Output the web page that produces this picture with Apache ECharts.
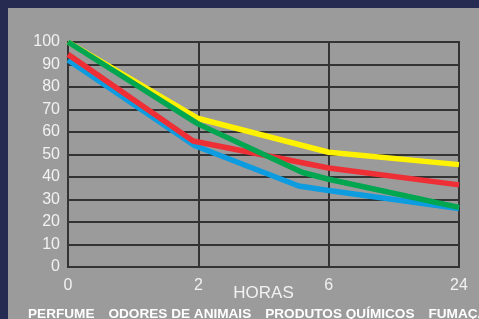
<!DOCTYPE html>
<html>
<head>
<meta charset="utf-8">
<script src="https://cdn.jsdelivr.net/npm/echarts@6/dist/echarts.min.js"></script>
<style>
  html, body { margin: 0; padding: 0; background: #262b52; }
  #myChart { width: 479px; height: 319px; }
</style>
</head>
<body>
<div id="myChart"></div>
<script>
  // horas (posição no eixo -> rótulo)
  var hourLabels = ['0', '2', '6', '24'];
  var legendNames = ['PERFUME', 'ODORES DE ANIMAIS', 'PRODUTOS QUÍMICOS', 'FUMAÇA'];

  // [posição no eixo, %]
  var perfume = [[0, 100], [1, 66], [2, 51], [3, 45.5]];
  var odores = [[0, 100], [1, 63.5], [1.8, 42], [2, 39], [3, 26.5]];
  var quimicos = [[0, 94.5], [0.96, 56], [2, 44], [3, 36.5]];
  var fumaca = [[0, 92], [0.97, 54], [1.77, 36], [2, 34], [3, 26]];

  var gridColor = '#333333';
  var font = 'Liberation Sans, Arial, sans-serif';

  function mkLine(name, data, color) {
    return {
      name: name,
      type: 'line',
      data: data,
      symbol: 'none',
      silent: true,
      lineStyle: { color: color, width: 5.5 },
      itemStyle: { color: color }
    };
  }

  var option = {
    backgroundColor: '#262b52',
    animation: false,
    textStyle: { fontFamily: font },
    graphic: [{
      type: 'rect',
      z: -10,
      shape: { x: 8, y: 8, width: 480, height: 320 },
      style: { fill: '#9b9b9b' }
    }, {
      // borda direita/superior do grid
      type: 'rect',
      z: 1,
      silent: true,
      shape: { x: 68, y: 42, width: 391, height: 225 },
      style: { fill: 'none', stroke: gridColor, lineWidth: 2 }
    }],
    legend: {
      data: legendNames,
      left: 17,
      top: 302,
      width: 700,
      itemWidth: 0,
      itemHeight: 0,
      itemGap: 8,
      selectedMode: false,
      textStyle: { color: '#ffffff', fontWeight: 'bold', fontSize: 13.6, fontFamily: font }
    },
    grid: { left: 68, right: 20, top: 42, bottom: 52 },
    xAxis: {
      type: 'value',
      min: 0, max: 3, interval: 1,
      name: 'HORAS',
      nameLocation: 'middle',
      nameGap: 18,
      nameMoveOverlap: false,
      nameTextStyle: { color: '#f2f2f2', fontSize: 17, fontFamily: font },
      axisLine: { show: true, lineStyle: { color: gridColor, width: 2 } },
      axisTick: { show: false },
      axisLabel: {
        color: '#f2f2f2', fontSize: 16, margin: 11, fontFamily: font,
        formatter: function (v) { return hourLabels[v]; }
      },
      splitLine: { show: true, lineStyle: { color: gridColor, width: 2 } }
    },
    yAxis: {
      type: 'value',
      min: 0, max: 100, interval: 10,
      axisLine: { show: true, lineStyle: { color: gridColor, width: 2 } },
      axisTick: { show: false },
      axisLabel: { color: '#f2f2f2', fontSize: 16, margin: 8, fontFamily: font },
      splitLine: { show: true, lineStyle: { color: gridColor, width: 2 } }
    },
    series: [
      mkLine('FUMAÇA', fumaca, '#0d9ce0'),
      mkLine('PRODUTOS QUÍMICOS', quimicos, '#ee2f36'),
      mkLine('PERFUME', perfume, '#fff200'),
      mkLine('ODORES DE ANIMAIS', odores, '#00a650')
    ]
  };

  var myChart = echarts.init(document.getElementById('myChart'));
  myChart.setOption(option);
</script>
</body>
</html>
